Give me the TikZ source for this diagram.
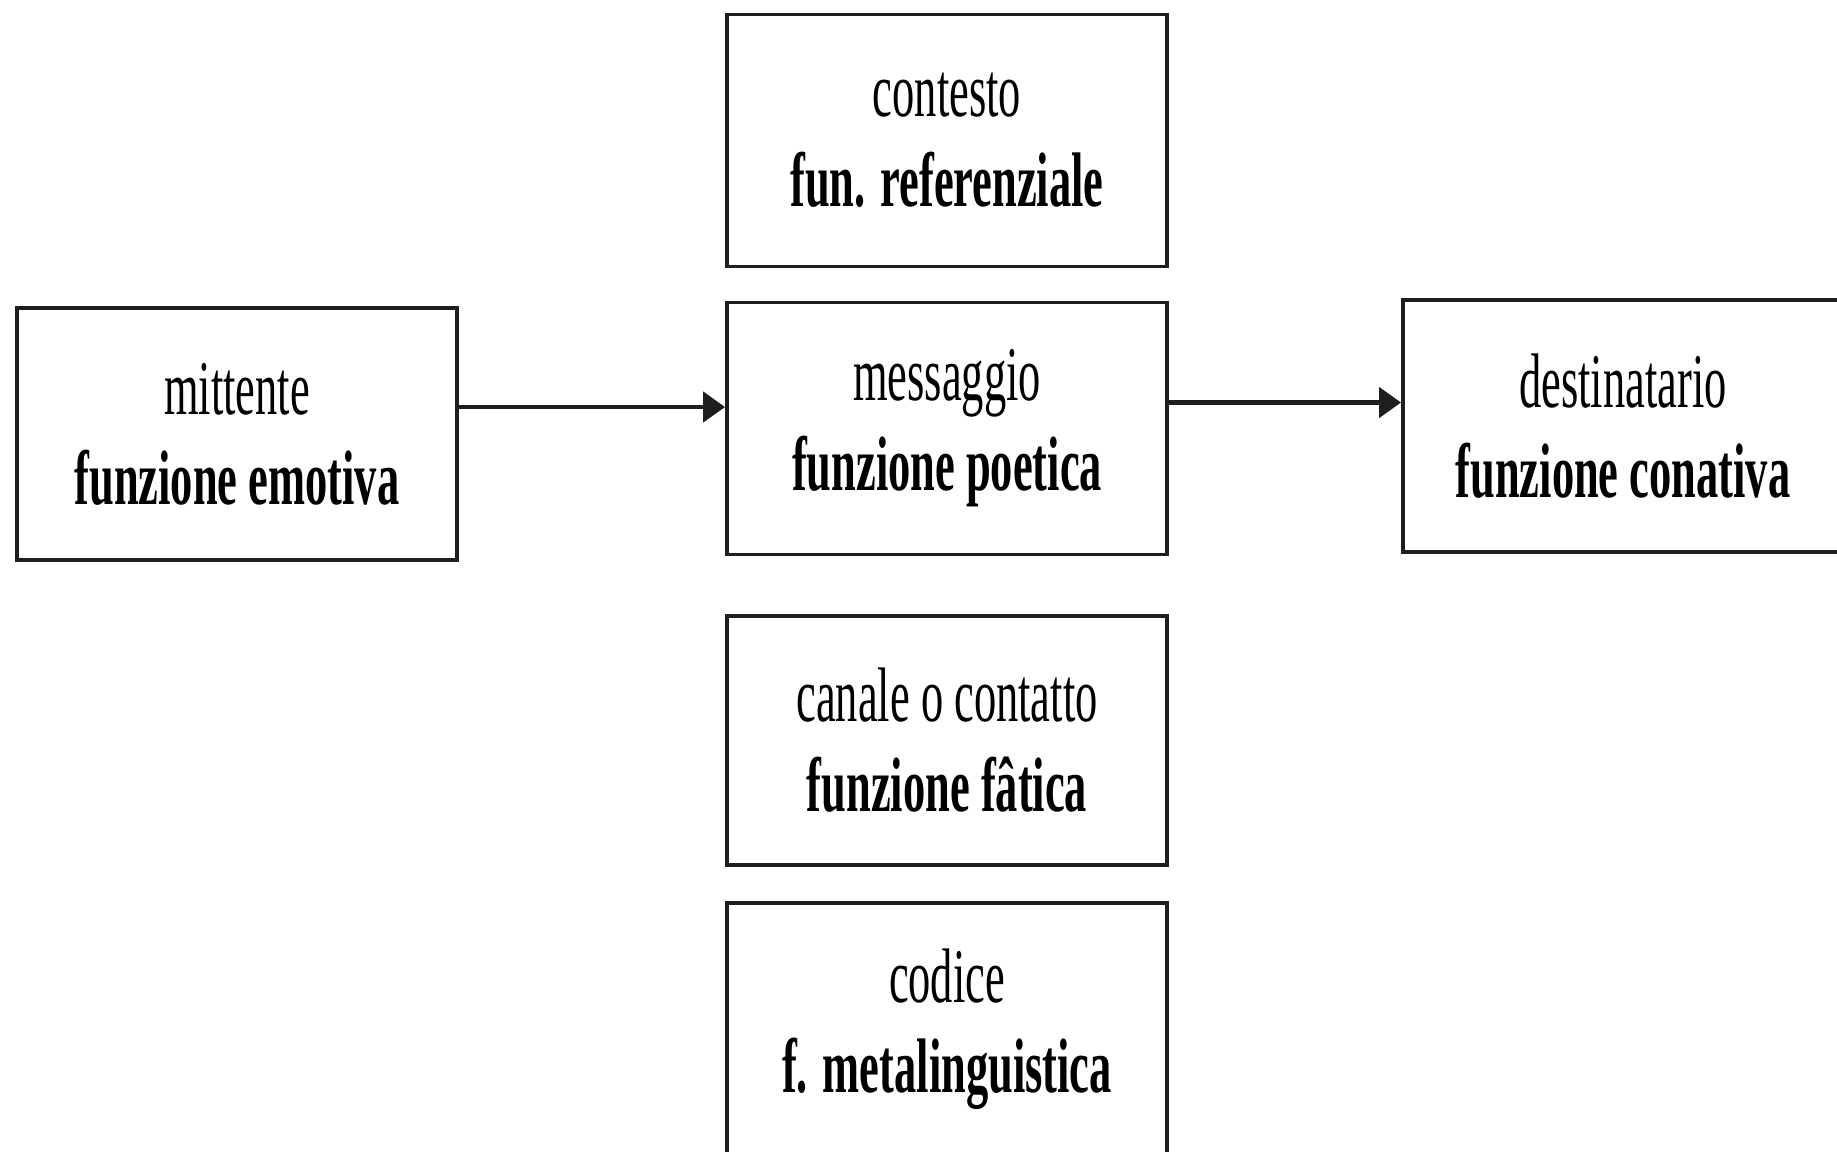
\documentclass[tikz,border=0pt]{standalone}
\usepackage{fontspec}
\setmainfont{Liberation Serif}[FakeStretch=0.575]
\usepackage{tikz}
\usetikzlibrary{positioning,arrows.meta}
\definecolor{boxline}{RGB}{30,30,30}

\tikzset{
  funbox/.style={draw=boxline,line width=1.1pt,minimum width=4.4cm,
                 minimum height=2.52cm,inner sep=0pt,align=center},
  funarrow/.style={draw=boxline,line width=1.3pt,
                   -{Triangle[length=0.22cm,width=0.3cm]}}
}

\begin{document}
\begin{tikzpicture}[font=\fontsize{22}{25.6}\selectfont]
    \useasboundingbox (0,0) rectangle (18.37,-11.51);
    % Emittente e destinatario
    \node[funbox] (mitt) at (2.37,-4.34) {mittente\\\textbf{funzione emotiva}};
    \node[funbox] (dest) at (16.23,-4.26) {destinatario\\\textbf{funzione conativa}};
    % Colonna centrale
    \node[funbox] (cont) at (9.47,-1.405) {contesto\\\textbf{fun. referenziale}};
    \node[funbox] (mess) at (9.47,-4.285) {messaggio\\\textbf{funzione poetica}};
    \node[funbox,minimum height=2.49cm] (can) at (9.47,-7.405) {canale o contatto\\\textbf{funzione fâtica}};
    \node[funbox] (cod) at (9.47,-10.29) {codice\\\textbf{f. metalinguistica}};
    % Frecce
    \coordinate[above=2.7mm of mitt.east] (m1);
    \coordinate[above=2.6mm of mess.east] (m2);
    \draw[funarrow] (m1) -- (m1 -| mess.west);
    \draw[funarrow] (m2) -- (m2 -| dest.west);
\end{tikzpicture}
\end{document}
